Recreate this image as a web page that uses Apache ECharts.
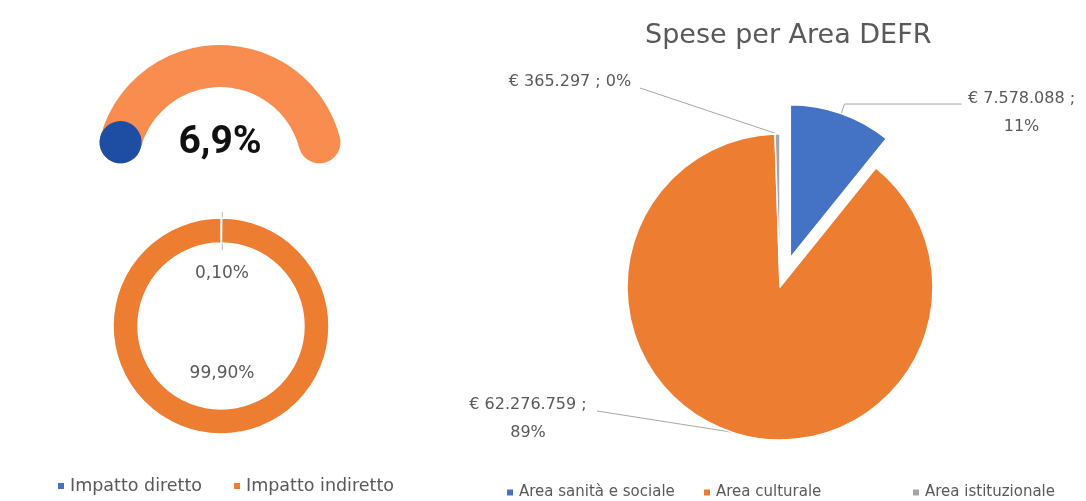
<!DOCTYPE html>
<html>
<head>
<meta charset="utf-8">
<script src="https://cdn.jsdelivr.net/npm/echarts@6/dist/echarts.min.js"></script>
<style>
  html, body { margin: 0; padding: 0; background: #fff; }
  #main { width: 1086px; height: 501px; }
</style>
</head>
<body>
<div id="main"></div>
<script>
// headline figure written inside the arc
var impactHeadline = 6.9;
// blue start marker on the arc (0-100 scale)
var arcDirect = 0.1;

// ring on the left
var impactNames = ['Impatto diretto', 'Impatto indiretto'];
var impactShares = [0.1, 99.9];

// pie on the right
var areaNames = ['Area sanità e sociale', 'Area culturale', 'Area istituzionale'];
var areaSpend = [7578088, 62276759, 365297];
var areaShares = [11, 89, 0];

var font = 'DejaVu Sans';
var grey = '#595959';

function euro(n) {
    return '€ ' + String(n).replace(/\B(?=(\d{3})+(?!\d))/g, '.');
}

function legendItem(name, left, top, size) {
    return {
        data: [name],
        left: left,
        top: top,
        icon: 'rect',
        itemWidth: 8,
        itemHeight: 8,
        itemGap: 0,
        selectedMode: false,
        textStyle: { fontFamily: font, fontSize: size, color: grey }
    };
}

var myChart = echarts.init(document.getElementById('main'));

myChart.setOption({
    animation: false,
    title: {
        text: 'Spese per Area DEFR',
        left: 640,
        top: 17,
        textStyle: { fontFamily: font, fontSize: 27, fontWeight: 'normal', color: grey }
    },
    legend: [
        legendItem(impactNames[0], 51, 472, 17.5),
        legendItem(impactNames[1], 227, 472, 17.5),
        legendItem(areaNames[0], 500, 480, 15),
        legendItem(areaNames[1], 697, 480, 15),
        legendItem(areaNames[2], 906, 480, 15)
    ],
    series: [{
        type: 'gauge',
        center: [220, 169],
        radius: 124,
        startAngle: 165,
        endAngle: 15,
        min: 0,
        max: 100,
        axisLine: { roundCap: true, lineStyle: { width: 42, color: [[1, '#F98D4F']] } },
        progress: { show: true, roundCap: true, width: 42, itemStyle: { color: '#1D4EA3' } },
        pointer: { show: false },
        anchor: { show: false },
        axisTick: { show: false },
        splitLine: { show: false },
        axisLabel: { show: false },
        title: { show: false },
        detail: {
            offsetCenter: [0, -26],
            formatter: function () {
                return impactHeadline.toFixed(1).replace('.', ',') + '%';
            },
            fontFamily: 'Roboto',
            fontWeight: 'bold',
            fontSize: 39,
            color: '#111'
        },
        data: [{ value: arcDirect }]
    }, {
        type: 'pie',
        center: [221, 326],
        radius: [83, 108],
        startAngle: 90,
        clockwise: true,
        avoidLabelOverlap: false,
        color: ['#4472C4', '#ED7D31'],
        itemStyle: { borderColor: '#fff', borderWidth: 1.5 },
        data: impactNames.map(function (n, i) {
            return { name: n, value: impactShares[i], labelLine: { show: i === 0 } };
        }),
        label: {
            formatter: function (p) {
                return p.value.toFixed(2).replace('.', ',') + '%';
            },
            fontFamily: font,
            fontSize: 17,
            color: grey
        },
        labelLine: { lineStyle: { color: '#b8b8b8', width: 1 } },
        labelLayout: function (p) {
            var y = p.dataIndex === 0 ? 274 : 374;
            var out = { x: 222, y: y, align: 'center', verticalAlign: 'middle' };
            if (p.dataIndex === 0 && p.labelLinePoints) {
                var a = p.labelLinePoints[0];
                out.labelLinePoints = [[a[0] + 1, a[1] - 6], [a[0] + 1, y - 24]];
            }
            return out;
        }
    }, {
        type: 'pie',
        center: [780, 287],
        radius: 153,
        startAngle: 90,
        clockwise: true,
        avoidLabelOverlap: false,
        selectedMode: 'single',
        selectedOffset: 31,
        color: ['#4472C4', '#ED7D31', '#A5A5A5'],
        itemStyle: { borderColor: '#fff', borderWidth: 1.5 },
        data: areaNames.map(function (n, i) {
            var item = { name: n, value: areaSpend[i], selected: i === 0 };
            if (item.selected) {
                item.labelLine = { length: 10, length2: 117 };
                item.label = { padding: [18, 0, 0, 0] };
            }
            return item;
        }),
        label: {
            formatter: function (p) {
                var s = areaShares[p.dataIndex];
                var head = euro(p.value) + ' ;';
                if (p.data.selected) {
                    return '{v|' + head + '}\n{v|' + s + '%}';
                }
                return head + (s > 0 ? '\n' : ' ') + s + '%';
            },
            rich: {
                v: { width: 110, align: 'center', fontFamily: font, fontSize: 16, lineHeight: 28, color: grey }
            },
            fontFamily: font,
            fontSize: 16,
            lineHeight: 28,
            align: 'center',
            color: grey
        },
        labelLine: { lineStyle: { color: '#a6a6a6', width: 1 } },
        labelLayout: function (p) {
            // the exploded slice keeps the library's own label placement
            if (p.dataIndex === 0) {
                return {};
            }
            var spots = [
                null,
                { x: 528, y: 419, ex: 597, ey: 411 },
                { x: 570, y: 82, ex: 640, ey: 88 }
            ];
            var s = spots[p.dataIndex];
            var out = { x: s.x, y: s.y, align: 'center', verticalAlign: 'middle' };
            if (p.labelLinePoints) {
                out.labelLinePoints = [p.labelLinePoints[0], [s.ex, s.ey]];
            }
            return out;
        }
    }]
});
</script>
</body>
</html>
